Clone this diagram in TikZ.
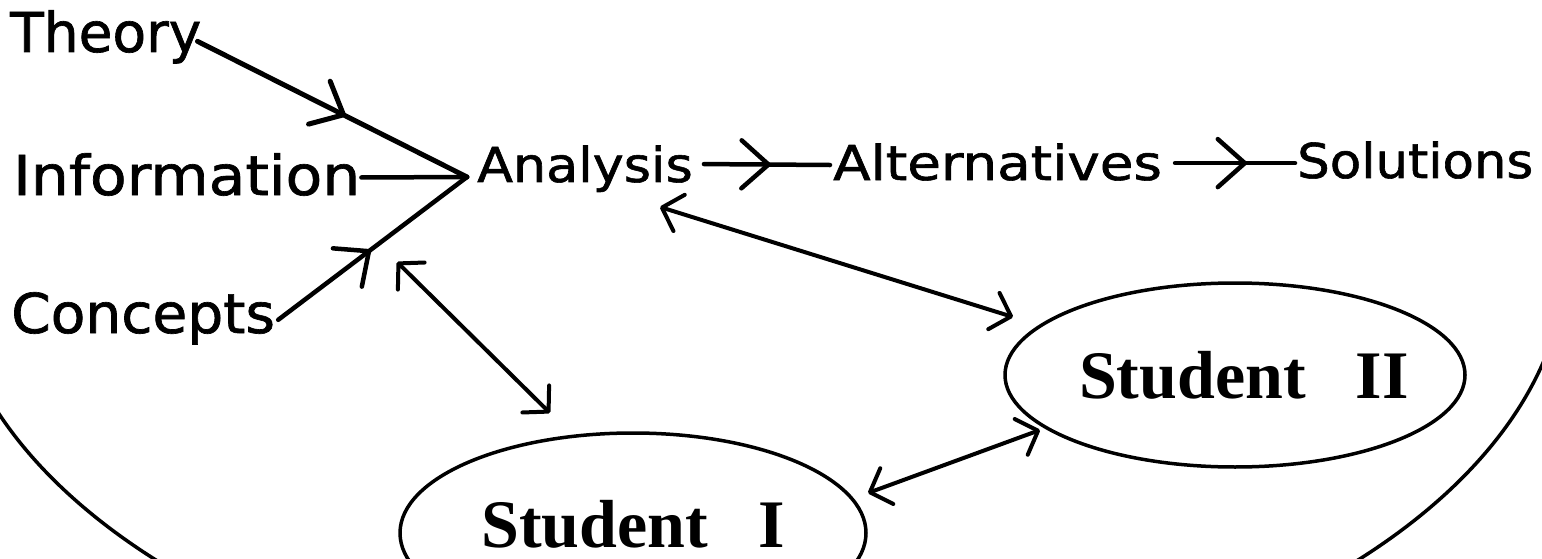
\documentclass[tikz,border=0pt]{standalone}
\usepackage{fontspec}
\usetikzlibrary{arrows.meta,decorations.markings,shapes.geometric}
\newfontfamily\dvsans[FakeBold=1.2]{DejaVu Sans}
\newfontfamily\lserif{Liberation Serif}
\begin{document}
\begin{tikzpicture}[x=1pt,y=-1pt,
  lbl/.style={inner sep=0pt, anchor=base west, font=\dvsans\fontsize{55}{60}\selectfont},
  toprow/.style={inner sep=0pt, anchor=base west, font=\dvsans\fontsize{48}{52}\selectfont},
  stud/.style={inner sep=0pt, font=\lserif\bfseries\fontsize{68}{72}\selectfont},
  ell/.style={draw, ellipse, line width=3.5pt, inner sep=0pt},
  feed/.style={line width=4.5pt, line cap=round},
  midarrow/.style={decoration={markings, mark=at position #1 with {\arrow{Straight Barb[length=27pt,width=48pt,round]}}}, postaction={decorate}},
  dbl/.style={line width=4pt, line cap=round, {Straight Barb[length=18pt,width=38pt,round]}-{Straight Barb[length=18pt,width=38pt,round]}},
  bigarc/.style={line width=3.5pt}
]
\fill[white] (0,0) rectangle (1542,559);
\useasboundingbox (0,0) rectangle (1542,559);

% big surrounding arc (lower part only)
\begin{scope}
  \clip (0,270) rectangle (1542,559);
  \draw[bigarc] (757,251) ellipse [x radius=810, y radius=461];
\end{scope}

% texts
\node[lbl] (theory) at (10,52) {Theory};
\node[lbl] (info) at (13,195) {\scalebox{1.09}[1]{Information}};
\node[lbl] (concepts) at (11,333) {\scalebox{1.03}[1]{Concepts}};
\node[toprow] (analysis) at (477,182) {\scalebox{1.09}[1]{Analysis}};
\node[toprow] (alt) at (833,180) {\scalebox{1.14}[1]{Alternatives}};
\node[toprow] (sol) at (1297,178) {\scalebox{1.07}[1]{Solutions}};

% student ellipses
\node[ell, minimum width=466pt, minimum height=200pt] (s1) at (633,533) {};
\node[stud] (s1t) at ([yshift=9pt]s1) {Student\hspace{50pt}I};
\node[ell, minimum width=460pt, minimum height=184pt] (s2) at (1235,375) {};
\node[stud] (s2t) at ([xshift=9pt]s2) {Student\hspace{50pt}II};

% converging inputs
\coordinate (J) at (467,177);
\draw[feed, line width=5pt, midarrow=0.55] ([xshift=-4pt,yshift=-4.5pt]theory.east) -- (J);
\draw[feed] ([xshift=1pt,yshift=-3pt]info.east) -- (J);
\draw[feed, midarrow=0.49] ([xshift=3pt,yshift=-1.5pt]concepts.east) -- (J);

% top row
\draw[feed, midarrow=0.53] ([xshift=11pt,yshift=4.7pt]analysis.east) -- ([xshift=-3pt,yshift=-2.9pt]alt.west);
\draw[feed, midarrow=0.6] ([xshift=13pt,yshift=-1pt]alt.east) -- ([xshift=-2pt,yshift=-3pt]sol.west);

% double arrows
\coordinate (a1) at (397,262);
\coordinate (b1) at (550,413);
\coordinate (a2) at (660,207);
\coordinate (b2) at (1013,317);
\coordinate (a3) at (868,493);
\coordinate (b3) at (1040,430);
\draw[dbl] (a1) -- (b1);
\draw[dbl] (a2) -- (b2);
\draw[dbl] (a3) -- (b3);
\end{tikzpicture}
\end{document}
